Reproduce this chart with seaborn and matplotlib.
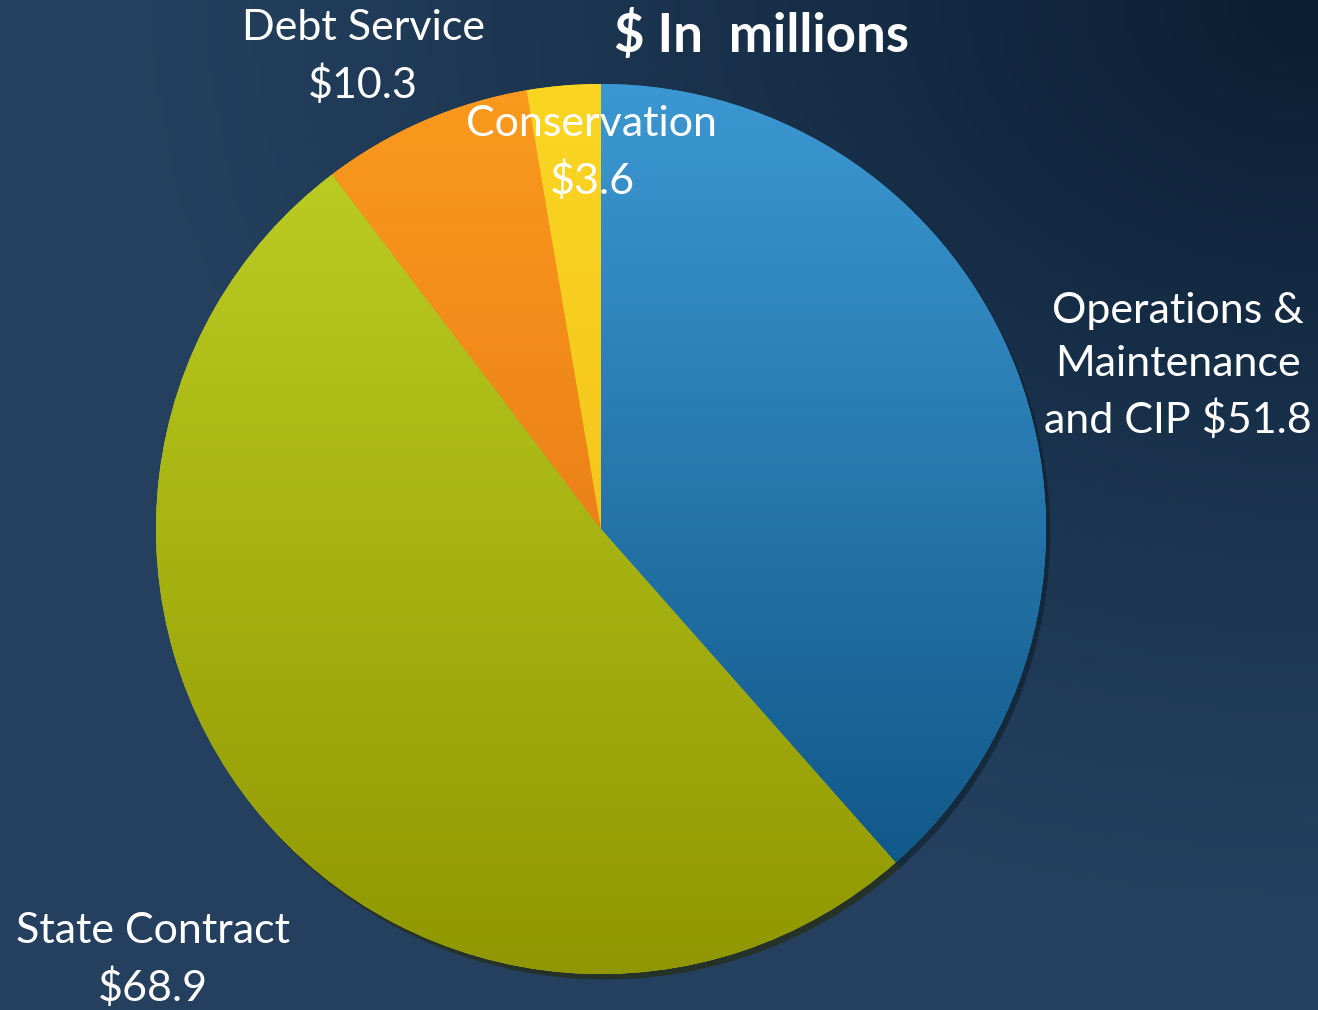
import numpy as np
import seaborn as sns
import matplotlib
matplotlib.use("Agg")
import matplotlib.pyplot as plt
from matplotlib.colors import to_rgb

sns.set_theme(style="white")
plt.rcParams['font.family'] = ['Lato', 'DejaVu Sans']

# data ($ in millions), clockwise from 12 o'clock
categories = ["Operations &\nMaintenance\nand CIP $51.8", "State Contract\n$68.9",
              "Debt Service\n$10.3", "Conservation\n$3.6"]
values = [51.8, 68.9, 10.3, 3.6]
light_colors = ["#3c98d2", "#bfd126", "#fb9a1e", "#fad623"]
dark_colors = ["#0b4f7f", "#909700", "#dc6811", "#efb514"]

W, H = 1318, 1010
fig = plt.figure(figsize=(W / 100, H / 100), dpi=100)
ax = fig.add_axes([0, 0, 1, 1])

# background: navy, darker toward the top right corner
yy, xx = np.mgrid[0:1:200j, 0:1:260j]
c_a = np.array(to_rgb("#2d4c6d"))
c_b = np.array(to_rgb("#0a1d32"))
d = np.sqrt((1 - xx) ** 2 + (1 - yy) ** 2)
t = np.clip(1.0 - d / 0.9, 0, 1)[..., None] ** 1.2
t = 0.25 + 0.75 * t
bg = c_a * (1 - t) + c_b * t
ax.imshow(bg, extent=[0, W, 0, H], origin="lower", aspect="auto", zorder=0)

cx, cy, r = 601, H - 529, 445
wedges, _ = ax.pie(values, center=(cx, cy), radius=r, startangle=90,
                   counterclock=False, frame=True,
                   colors=light_colors,
                   wedgeprops=dict(linewidth=0),
                   shadow=dict(ox=3, oy=-4, shade=0.8, alpha=0.6))
ax.set_xlim(0, W)
ax.set_ylim(0, H)
ax.set_axis_off()

# vertical shading inside each slice
g = np.linspace(0, 1, 256)[:, None]
for w, lc, dc in zip(wedges, light_colors, dark_colors):
    a, b = np.array(to_rgb(lc)), np.array(to_rgb(dc))
    img = (a * (1 - g[..., None]) + b * g[..., None]).repeat(2, axis=1)
    im = ax.imshow(img, extent=[cx - r, cx + r, cy - r, cy + r],
                   origin="upper", aspect="auto", zorder=2)
    im.set_clip_path(w)

# labels
lab_pos = [(1178, 366), (153, 960), (363, 57), (592, 153)]
for txt, (x, y) in zip(categories, lab_pos):
    ax.text(x, H - y, txt, color="white", fontsize=31, ha="center",
            va="center", linespacing=1.5, zorder=5)

ax.text(762, H - 36, "$ In  millions", color="white", fontsize=38,
        fontweight="bold", ha="center", va="center", zorder=5)

fig.savefig("out.png", dpi=100)
